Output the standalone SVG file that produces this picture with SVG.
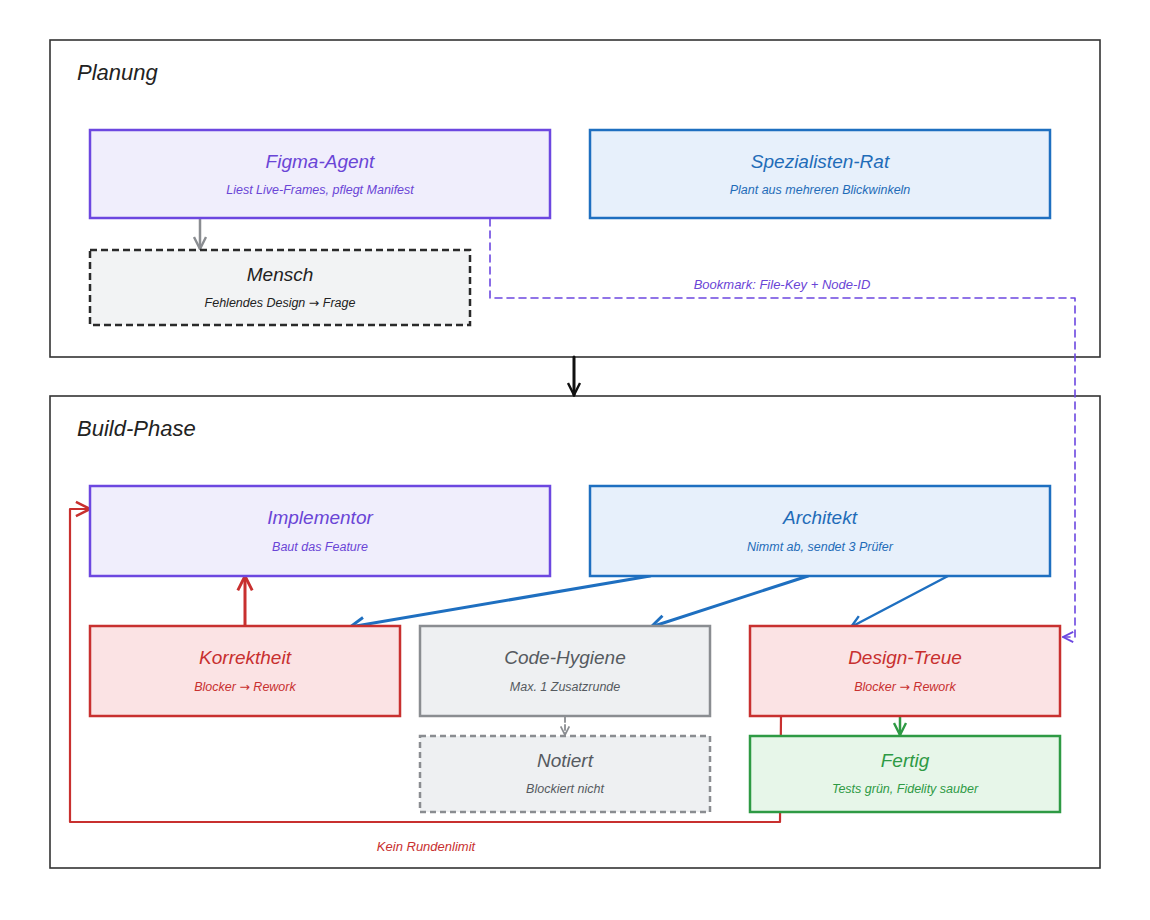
<svg xmlns="http://www.w3.org/2000/svg" width="1150" height="920" viewBox="0 0 1150 920">
<style>
text{font-family:"Liberation Sans","Open Sans",sans-serif;font-style:italic;text-anchor:middle}
.ct{font-size:22px;fill:#222;text-anchor:start}
.t{font-size:19px}
.s{font-size:12.5px}
.arw{font-family:"DejaVu Sans",sans-serif;font-style:normal}
.cont{fill:#fff;stroke:#333;stroke-width:1.6}
.purple rect{fill:#f0eefc;stroke:#6c47e0;stroke-width:2.5}
.purple text{fill:#6a45d6}
.blue rect{fill:#e7f0fb;stroke:#1e6fc0;stroke-width:2.5}
.blue text{fill:#1f6cb8}
.red rect{fill:#fbe3e4;stroke:#c8302f;stroke-width:2.5}
.red text{fill:#c8302f}
.gray rect{fill:#eef0f2;stroke:#8a8d91;stroke-width:2.5}
.gray text{fill:#555a60}
.green rect{fill:#e7f6e9;stroke:#2e9a44;stroke-width:2.5}
.green text{fill:#2e9a44}
.human rect{fill:#f2f3f4;stroke:#2a2a2a;stroke-width:2.5;stroke-dasharray:7 4}
.human text{fill:#222}
.note rect{fill:#eef0f2;stroke:#8a8d91;stroke-width:2.5;stroke-dasharray:6 4}
.note text{fill:#555a60}
.c{fill:none;stroke-linecap:round;stroke-linejoin:round}
</style>
<defs>
<marker id="ab" viewBox="0 0 10 10" refX="9" refY="5" markerWidth="6" markerHeight="6" orient="auto" markerUnits="strokeWidth"><path d="M1,1 L9,5 L1,9" fill="none" stroke="#1e6fc0" stroke-width="1.6"/></marker>
<marker id="ar" viewBox="0 0 10 10" refX="9" refY="5" markerWidth="6" markerHeight="6" orient="auto" markerUnits="strokeWidth"><path d="M1,1 L9,5 L1,9" fill="none" stroke="#c8302f" stroke-width="1.6"/></marker>
<marker id="ar2" viewBox="0 0 10 10" refX="9" refY="5" markerWidth="8" markerHeight="8" orient="auto" markerUnits="strokeWidth"><path d="M1,1 L9,5 L1,9" fill="none" stroke="#c8302f" stroke-width="1.4"/></marker>
<marker id="ag" viewBox="0 0 10 10" refX="9" refY="5" markerWidth="6" markerHeight="6" orient="auto" markerUnits="strokeWidth"><path d="M1,1 L9,5 L1,9" fill="none" stroke="#2e9a44" stroke-width="1.6"/></marker>
<marker id="agr" viewBox="0 0 10 10" refX="9" refY="5" markerWidth="6" markerHeight="6" orient="auto" markerUnits="strokeWidth"><path d="M1,1 L9,5 L1,9" fill="none" stroke="#8a8d91" stroke-width="1.6"/></marker>
<marker id="ap" viewBox="0 0 10 10" refX="9" refY="5" markerWidth="8" markerHeight="8" orient="auto" markerUnits="strokeWidth"><path d="M1,1 L9,5 L1,9" fill="none" stroke="#6c47e0" stroke-width="1.4"/></marker>
<marker id="ak" viewBox="0 0 10 10" refX="9" refY="5" markerWidth="5" markerHeight="5" orient="auto" markerUnits="strokeWidth"><path d="M1,1 L9,5 L1,9" fill="none" stroke="#111" stroke-width="1.6"/></marker>
</defs>
<rect width="1150" height="920" fill="#fff"/>

<g id="planung">
<rect class="cont" x="50" y="40" width="1050" height="317"/>
<text class="ct" x="77" y="80">Planung</text>
</g>
<g id="build">
<rect class="cont" x="50" y="396" width="1050" height="472"/>
<text class="ct" x="77" y="436">Build-Phase</text>
</g>

<g id="connectors">
<path class="c" d="M574,357 L574,395" stroke="#111" stroke-width="3" marker-end="url(#ak)"/>
<path class="c" d="M200,219 L200,249" stroke="#8a8d91" stroke-width="2.5" marker-end="url(#agr)"/>
<path class="c" d="M490,219 L490,298 L1075,298 L1075,637 L1063,637" stroke="#6c47e0" stroke-width="1.6" stroke-dasharray="7 5" marker-end="url(#ap)"/>
<text x="782" y="289" style="font-size:13px;fill:#6a45d6">Bookmark: File-Key + Node-ID</text>
<path class="c" d="M650,576 L350,627" stroke="#1e6fc0" stroke-width="3" marker-end="url(#ab)"/>
<path class="c" d="M808,576 L651,627" stroke="#1e6fc0" stroke-width="3" marker-end="url(#ab)"/>
<path class="c" d="M948,576 L851,627" stroke="#1e6fc0" stroke-width="2.5" marker-end="url(#ab)"/>
<path class="c" d="M245,626 L245,576" stroke="#c8302f" stroke-width="3" marker-end="url(#ar)"/>
<path class="c" d="M565,717 L565,735" stroke="#8a8d91" stroke-width="1.8" stroke-dasharray="5 3" marker-end="url(#agr)"/>
<path class="c" d="M900,717 L900,735" stroke="#2e9a44" stroke-width="2.5" marker-end="url(#ag)"/>
<path class="c" d="M781,716 L780,822 L70,822 L70,509 L90,509" stroke="#c8302f" stroke-width="2.2" marker-end="url(#ar2)"/>
<text x="426" y="851" style="font-size:13px;fill:#c8302f">Kein Rundenlimit</text>
</g>

<g id="figma-agent" class="purple">
<rect x="90" y="130" width="460" height="88"/>
<text class="t" x="320" y="168">Figma-Agent</text>
<text class="s" x="320" y="194">Liest Live-Frames, pflegt Manifest</text>
</g>
<g id="spezialisten-rat" class="blue">
<rect x="590" y="130" width="460" height="88"/>
<text class="t" x="820" y="168">Spezialisten-Rat</text>
<text class="s" x="820" y="194">Plant aus mehreren Blickwinkeln</text>
</g>
<g id="mensch" class="human">
<rect x="90" y="250" width="380" height="75"/>
<text class="t" x="280" y="281">Mensch</text>
<text class="s" x="280" y="307">Fehlendes Design <tspan class="arw">→</tspan> Frage</text>
</g>

<g id="implementor" class="purple">
<rect x="90" y="486" width="460" height="90"/>
<text class="t" x="320" y="524">Implementor</text>
<text class="s" x="320" y="551">Baut das Feature</text>
</g>
<g id="architekt" class="blue">
<rect x="590" y="486" width="460" height="90"/>
<text class="t" x="820" y="524">Architekt</text>
<text class="s" x="820" y="551">Nimmt ab, sendet 3 Prüfer</text>
</g>
<g id="korrektheit" class="red">
<rect x="90" y="626" width="310" height="90"/>
<text class="t" x="245" y="664">Korrektheit</text>
<text class="s" x="245" y="691">Blocker <tspan class="arw">→</tspan> Rework</text>
</g>
<g id="code-hygiene" class="gray">
<rect x="420" y="626" width="290" height="90"/>
<text class="t" x="565" y="664">Code-Hygiene</text>
<text class="s" x="565" y="691">Max. 1 Zusatzrunde</text>
</g>
<g id="design-treue" class="red">
<rect x="750" y="626" width="310" height="90"/>
<text class="t" x="905" y="664">Design-Treue</text>
<text class="s" x="905" y="691">Blocker <tspan class="arw">→</tspan> Rework</text>
</g>
<g id="notiert" class="note">
<rect x="420" y="736" width="290" height="76"/>
<text class="t" x="565" y="767">Notiert</text>
<text class="s" x="565" y="793">Blockiert nicht</text>
</g>
<g id="fertig" class="green">
<rect x="750" y="736" width="310" height="76"/>
<text class="t" x="905" y="767">Fertig</text>
<text class="s" x="905" y="793">Tests grün, Fidelity sauber</text>
</g>
</svg>
